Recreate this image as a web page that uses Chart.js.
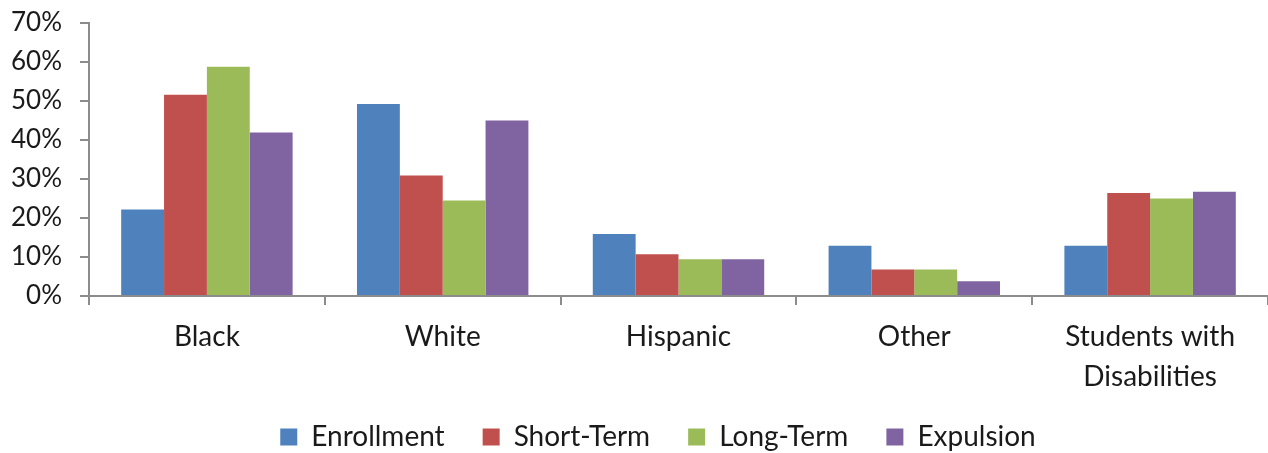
<!DOCTYPE html>
<html>
<head>
<meta charset="utf-8">
<script src="https://cdn.jsdelivr.net/npm/chart.js@4.4.1/dist/chart.umd.min.js"></script>
<style>
  html, body { margin: 0; padding: 0; background: #ffffff; }
  #wrap { width: 1268px; height: 453px; }
</style>
</head>
<body>
<div id="wrap"><canvas id="chart" width="1268" height="453"></canvas></div>
<script>
// Share of each group (percent)
const categories = ['Black', 'White', 'Hispanic', 'Other', ['Students with', 'Disabilities']];
const seriesNames = ['Enrollment', 'Short-Term', 'Long-Term', 'Expulsion'];
const enrollment = [22.2, 49.2, 15.9, 12.9, 12.9];
const shortTerm  = [51.6, 30.9, 10.7, 6.8, 26.4];
const longTerm   = [58.8, 24.5, 9.4, 6.8, 25.0];
const expulsion  = [41.9, 45.0, 9.4, 3.8, 26.7];
const yTicks = [0, 10, 20, 30, 40, 50, 60, 70];

const colors = ['#4F81BD', '#C0504D', '#9BBB59', '#8064A2'];
const seriesValues = [enrollment, shortTerm, longTerm, expulsion];
const FONT = 'Lato, "Open Sans", sans-serif';
const AXIS = '#8C8C8C';

// Places the legend row and lets the two-line category labels
// spill below the x-axis box without being clipped.
const legendPlacement = {
  id: 'legendPlacement',
  afterLayout(chart) {
    const lg = chart.legend;
    if (lg) {
      const dx = 24, dy = 8;
      lg.left += dx; lg.right += dx;
      lg.top += dy; lg.bottom += dy;
    }
    if (chart.scales.x) chart.scales.x.bottom = chart.height;
  }
};

new Chart(document.getElementById('chart'), {
  type: 'bar',
  data: {
    labels: categories,
    datasets: seriesNames.map((name, i) => ({
      label: name,
      data: seriesValues[i],
      backgroundColor: colors[i],
      borderWidth: 0,
      categoryPercentage: 0.727,
      barPercentage: 1.0
    }))
  },
  plugins: [legendPlacement],
  options: {
    responsive: false,
    animation: false,
    layout: { padding: { top: 23, right: 0, bottom: 0, left: 0 } },
    plugins: {
      tooltip: { enabled: false },
      legend: {
        position: 'bottom',
        labels: {
          boxWidth: 17,
          boxHeight: 17,
          padding: 38,
          color: '#1a1a1a',
          font: { family: FONT, size: 28 }
        }
      }
    },
    scales: {
      x: {
        grid: {
          display: true,
          offset: true,
          drawOnChartArea: false,
          drawTicks: true,
          tickLength: 9,
          color: AXIS,
          lineWidth: 2
        },
        border: { display: true, color: AXIS, width: 2 },
        ticks: {
          color: '#1a1a1a',
          padding: 12,
          maxRotation: 0,
          autoSkip: false,
          font: { family: FONT, size: 28, lineHeight: 1.43 }
        },
        afterFit(scale) {
          scale.height = 81;
          scale.paddingLeft = 0;
          scale.paddingRight = 0;
        }
      },
      y: {
        min: 0,
        max: 70,
        afterBuildTicks(scale) { scale.ticks = yTicks.map(v => ({ value: v })); },
        grid: {
          display: true,
          drawOnChartArea: false,
          drawTicks: true,
          tickLength: 9,
          color: AXIS,
          lineWidth: 2
        },
        border: { display: true, color: AXIS, width: 2 },
        ticks: {
          color: '#1a1a1a',
          padding: 18,
          font: { family: FONT, size: 26 },
          callback: v => v + '%'
        },
        afterFit(scale) {
          scale.width = 89;
          scale.paddingTop = 0;
          scale.paddingBottom = 0;
        }
      }
    }
  }
});
</script>
</body>
</html>
